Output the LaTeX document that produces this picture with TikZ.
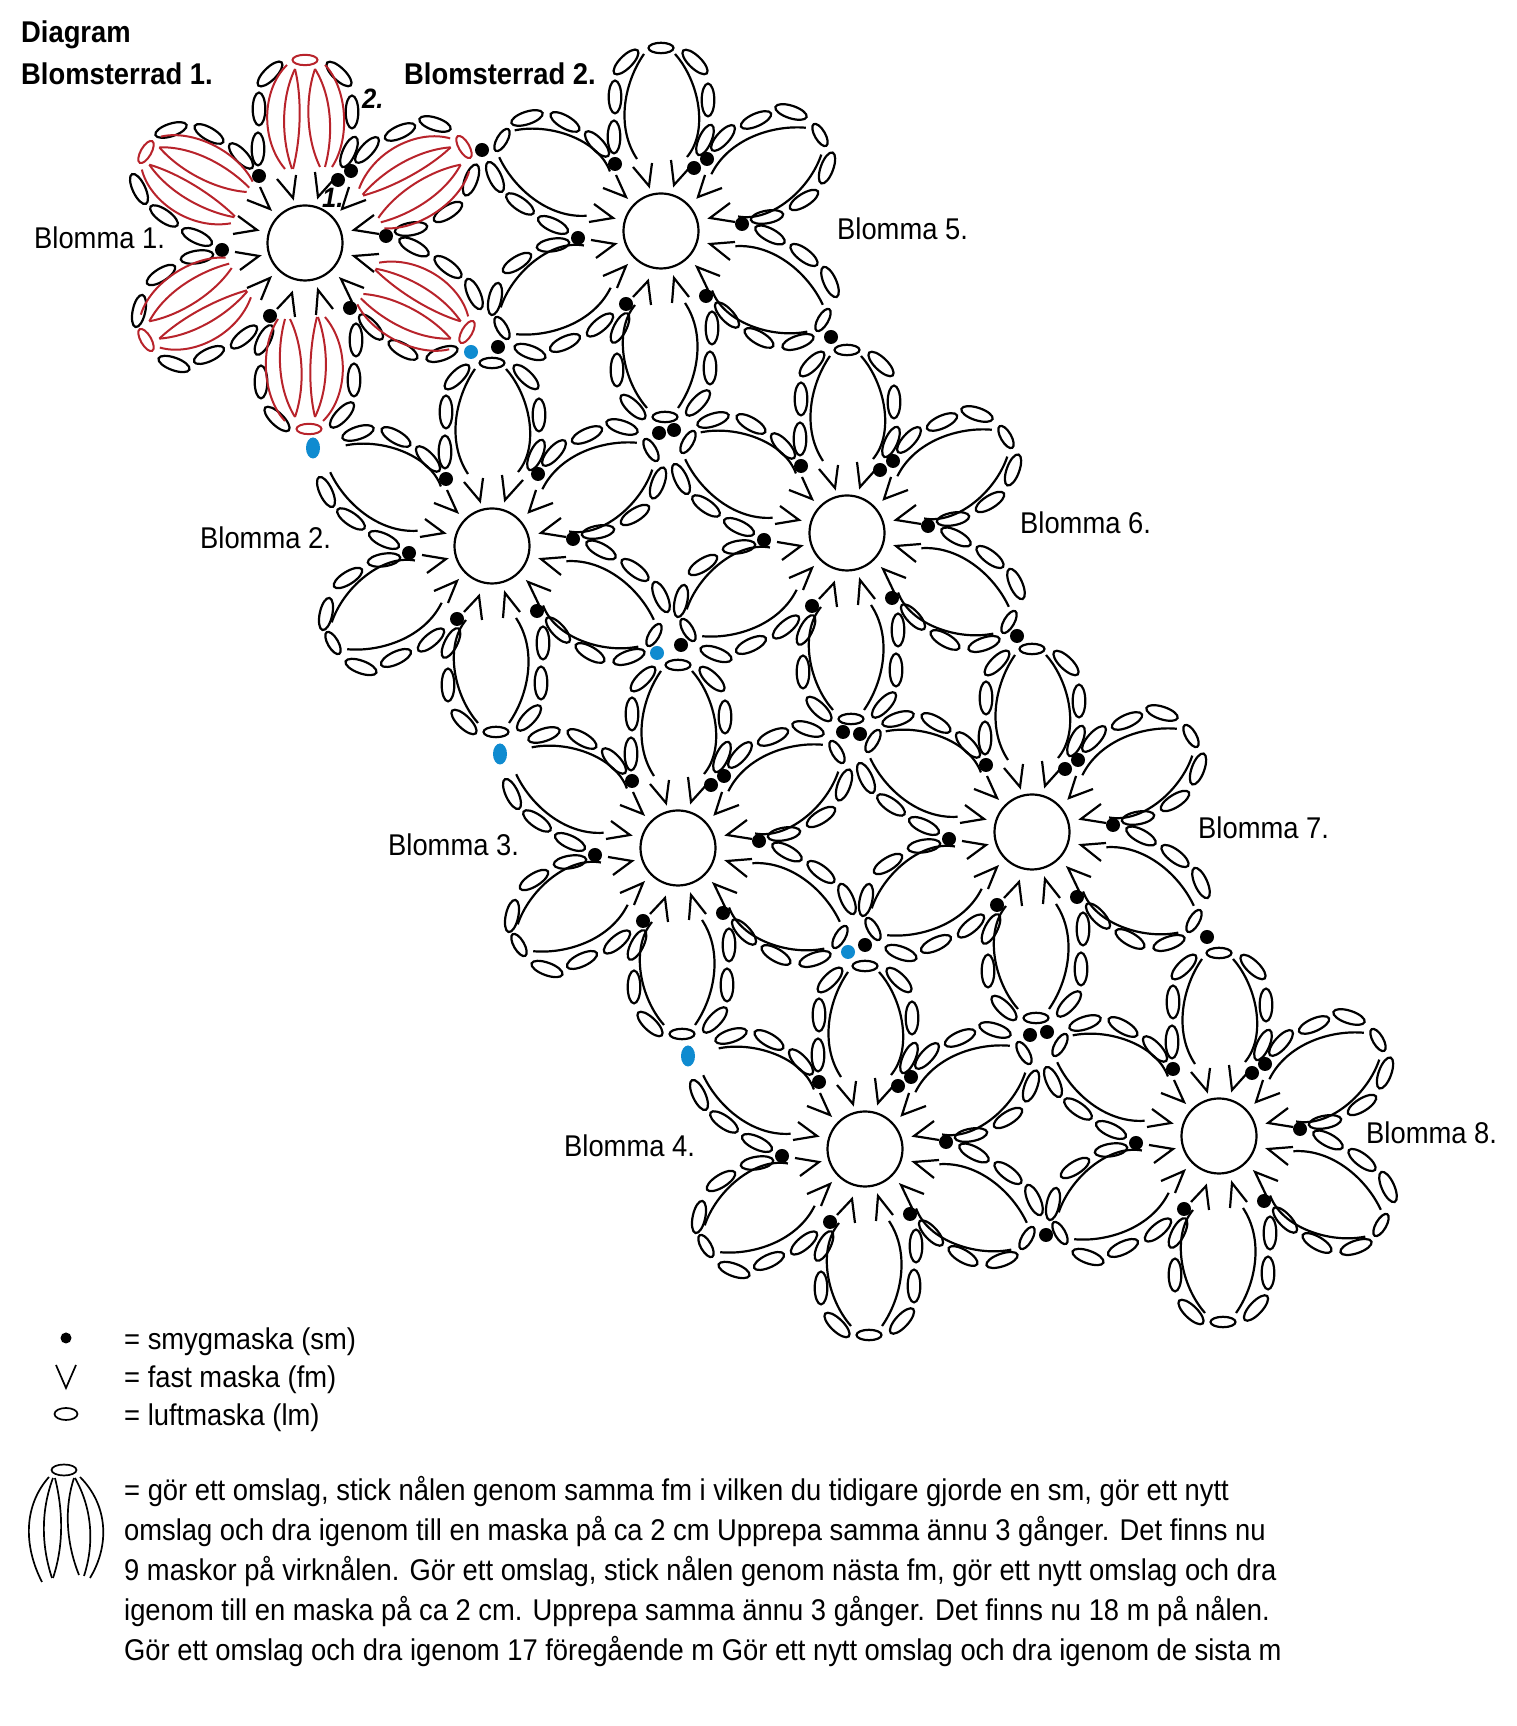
\documentclass[tikz,border=0pt]{standalone}
\usepackage{fontspec}
\setmainfont[FakeStretch=0.912]{Liberation Sans}
\definecolor{redy}{HTML}{B8232B}
\definecolor{bluey}{HTML}{0F8BD0}
\tikzset{
  ln/.style={line width=2.2pt,black},
  rd/.style={line width=2pt,redy},
  sm/.style={fill=black,draw=none},
  bl/.style={fill=bluey,draw=none},
  lab/.style={anchor=base west,inner sep=0pt,font=\fontsize{30}{30}\selectfont},
  hd/.style={anchor=base west,inner sep=0pt,font=\fontsize{30}{30}\selectfont\bfseries},
  body/.style={anchor=base west,inner sep=0pt,font=\fontsize{30}{30}\selectfont},
}
\newcommand{\flowercommon}{%
  \foreach \p/\q/\t in {
    -35/169/45, 34/169/-44, -46/134/90, 47/131/90, -47/94/90, 44/91/66,
    130/119/-18, 95/111/24, 62/93/48, 166/63/70, 143/31/32, 106/14/10,
    169/-51/-66, 143/-24/-37, 109/-4/-28, 137/-111/19, 98/-107/-30, 66/-84/-47,
    37/-172/47, 49/-137/90, 51/-97/90, -28/-176/-44, -44/-139/90, -41/-97/63,
    -131/-121/-20, -96/-112/25, -61/-94/40, -166/-68/78, -144/-32/32, -108/-14/9,
    -96/109/-30, -134/113/18, -64/87/-47, -166/54/-65, -141/27/-35, -108/6/-25
  }{\draw[ln,shift={(\p,\q)},rotate=\t] (0,0) ellipse [x radius=16.4,y radius=6.3];}
  \foreach \ax/\ay/\bx/\by/\cx/\cy in {
    -12/45/-28/64/-9/68, 13/46/10/71/31/66, 37/34/44/56/61/43, 49/13/69/28/74/9,
    49/-13/74/-11/69/-29, 36/-36/59/-45/47/-59, 13/-47/11/-72/28/-66, -13/-50/-10/-74/-28/-66,
    -35/-35/-58/-45/-44/-57, -46/-13/-70/-9/-65/-27, -48/13/-72/9/-67/27, -35/34/-58/43/-45/56
  }{\draw[ln] (\bx,\by)--(\ax,\ay)--(\cx,\cy);}
  \draw[ln] (0,0) circle [radius=37.5];
  \foreach \p/\q in {-46/67,46/72,81/7,45/-65,-35/-73,-83/-7}{\fill[sm] (\p,\q) circle [radius=7];}
}
\newcommand{\blackpetal}{%
  \draw[ln] (-24,72) .. controls (-46,105) and (-36,150) .. (-17,177);
  \draw[ln] (26,74) .. controls (48,100) and (38,150) .. (14,177);
}
\newcommand{\redpetal}{%
  \draw[rd] (-20,74) .. controls (-46,105) and (-42,155) .. (-18,178);
  \draw[rd] (-13,74) .. controls (-24,105) and (-24,145) .. (-10,174);
  \draw[rd] (-12,74) .. controls (-4,105) and (-3,145) .. (-10,174);
  \draw[rd] (15,76) .. controls (1,105) and (0,145) .. (10,174);
  \draw[rd] (20,76) .. controls (28,105) and (28,145) .. (10,174);
  \draw[rd] (27,76) .. controls (46,105) and (42,155) .. (20,178);
}
% #1 cx, #2 cy, #3 1 when the tip at 150 degrees is left out, #4 1 when the second top dot is shown
\newcommand{\flower}[4]{%
  \begin{scope}[shift={(#1,1726-#2)}]
    \flowercommon
    \foreach \a in {0,60,120,180,240,300}{
      \begin{scope}[rotate=\a]
        \blackpetal
      \end{scope}
    }
    \foreach \a/\p/\q in {0/0/183,300/159/96,240/162/-89,180/4/-186,120/-159/-97}{
      \draw[ln,shift={(\p,\q)},rotate=\a] (0,0) ellipse [x radius=12.5,y radius=5.2];
    }
    \ifnum#3=0 \draw[ln,shift={(-159,91)},rotate=60] (0,0) ellipse [x radius=12.5,y radius=5.2];\fi
    \ifnum#4=1 \fill[sm] (33,63) circle [radius=7];\fi
  \end{scope}
}
\newcommand{\redflower}[2]{%
  \begin{scope}[shift={(#1,1726-#2)}]
    \flowercommon
    \foreach \a in {0,60,120,180,240,300}{
      \begin{scope}[rotate=\a]
        \redpetal
      \end{scope}
    }
    \foreach \a/\p/\q in {0/0/183,300/159/96,240/162/-89,180/4/-186,120/-159/-97,60/-159/91}{
      \draw[rd,shift={(\p,\q)},rotate=\a] (0,0) ellipse [x radius=12.5,y radius=5.2];
    }
    \fill[sm] (33,63) circle [radius=7];
  \end{scope}
}
\newcommand{\xdot}[2]{\fill[sm] (#1,1726-#2) circle [radius=7];}
\newcommand{\bdot}[2]{\fill[bl] (#1,1726-#2) circle [radius=7];}
\newcommand{\boval}[2]{\fill[bl] (#1,1726-#2) ellipse [x radius=7,y radius=10.5];}
\begin{document}
\begin{tikzpicture}[x=1pt,y=1pt]
\useasboundingbox (0,0) rectangle (1517,1726);
\redflower{305}{243}
\flower{661}{231}{0}{1}
\flower{492}{546}{1}{0}
\flower{847}{533}{0}{1}
\flower{678}{848}{1}{1}
\flower{1032}{832}{0}{1}
\flower{865}{1149}{1}{1}
\flower{1219}{1136}{0}{1}
\xdot{482}{150}\xdot{498}{347}\xdot{831}{337}
\xdot{659}{433}\xdot{674}{430}\xdot{681}{645}\xdot{1017}{636}
\xdot{843}{732}\xdot{860}{734}\xdot{865}{945}\xdot{1207}{937}
\xdot{1030}{1035}\xdot{1047}{1032}\xdot{1046}{1235}
\bdot{471}{352}\bdot{657}{653}\bdot{848}{952}
\boval{313}{448}\boval{500}{754}\boval{688}{1056}
% headings
\node[hd] (tDiagram) at (21,1726-43) {Diagram};
\node[hd] (tRad1) at (21,1726-85) {Blomsterrad 1.};
\node[hd] (tRad2) at (404,1726-85) {Blomsterrad 2.};
\node[hd,font=\fontsize{28}{28}\selectfont\bfseries\itshape] (tOne) at (322,1726-208) {1.};
\node[hd,font=\fontsize{28}{28}\selectfont\bfseries\itshape] (tTwo) at (362,1726-109) {2.};
\node[lab] (b1) at (34,1726-249) {Blomma 1.};
\node[lab] (b2) at (200,1726-549) {Blomma 2.};
\node[lab] (b3) at (388,1726-856) {Blomma 3.};
\node[lab] (b4) at (564,1726-1157) {Blomma 4.};
\node[lab] (b5) at (837,1726-240) {Blomma 5.};
\node[lab] (b6) at (1020,1726-534) {Blomma 6.};
\node[lab] (b7) at (1198,1726-839) {Blomma 7.};
\node[lab] (b8) at (1366,1726-1144) {Blomma 8.};
% legend
\fill[sm] (66,1726-1338) circle [radius=5.5];
\draw[line width=1.7pt] (56,1726-1365)--(66,1726-1388)--(76,1726-1365);
\draw[line width=1.7pt] (66,1726-1414) ellipse [x radius=11.5,y radius=6];
\node[body] (l1) at (124,1726-1350) {= smygmaska (sm)};
\node[body] (l2) at (124,1726-1388) {= fast maska (fm)};
\node[body] (l3) at (124,1726-1426) {= luftmaska (lm)};
\begin{scope}[line width=1.7pt]
\draw (64,1726-1470) ellipse [x radius=12.5,y radius=5.5];
\draw (42,1726-1582) .. controls (23,1726-1545) and (24,1726-1505) .. (49,1726-1477);
\draw (52,1726-1578) .. controls (41,1726-1545) and (41,1726-1510) .. (53,1726-1478);
\draw (53,1726-1578) .. controls (64,1726-1545) and (63,1726-1510) .. (55,1726-1478);
\draw (79,1726-1575) .. controls (65,1726-1540) and (65,1726-1505) .. (74,1726-1478);
\draw (84,1726-1576) .. controls (94,1726-1545) and (93,1726-1510) .. (75,1726-1478);
\draw (90,1726-1578) .. controls (110,1726-1545) and (108,1726-1505) .. (80,1726-1477);
\end{scope}
\node[body] (p1) at (124,1726-1501) {= gör ett omslag, stick nålen genom samma fm i vilken du tidigare gjorde en sm, gör ett nytt};
\node[body] (p2) at (124,1726-1541) {omslag och dra igenom till en maska på ca 2 cm Upprepa samma ännu 3 gånger. Det finns nu};
\node[body] (p3) at (124,1726-1581) {9 maskor på virknålen. Gör ett omslag, stick nålen genom nästa fm, gör ett nytt omslag och dra};
\node[body] (p4) at (124,1726-1621) {igenom till en maska på ca 2 cm. Upprepa samma ännu 3 gånger. Det finns nu 18 m på nålen.};
\node[body] (p5) at (124,1726-1661) {Gör ett omslag och dra igenom 17 föregående m Gör ett nytt omslag och dra igenom de sista m};
\end{tikzpicture}
\end{document}
